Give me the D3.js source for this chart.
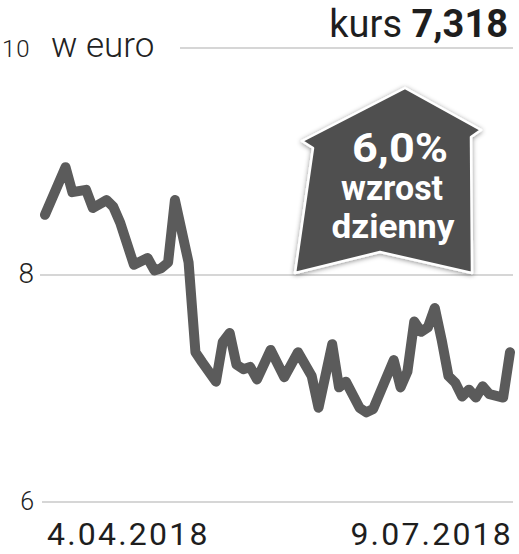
<!DOCTYPE html>
<html><head><meta charset="utf-8">
<script src="https://cdn.jsdelivr.net/npm/d3@7"></script>
<style>body{margin:0;background:#fff}svg{display:block}</style>
</head><body>
<svg id="c" width="519" height="554"></svg>
<script>
// trading-day index (0 = 4.04.2018, 68 = 9.07.2018) and EUR rate
const dayIndex = [0,3,4,6,7,9,10,11,13,15,16,17,18,19,21,22,23,25,26,27,28,29,30,31,33,35,37,39,40,42,43,44,46,47,48,51,52,53,54,55,56,57,58,59,60,61,62,63,64,65,67,68];
const values   = [8.53,8.95,8.73,8.75,8.59,8.66,8.60,8.46,8.09,8.15,8.04,8.06,8.11,8.66,8.11,7.32,7.23,7.06,7.41,7.49,7.21,7.17,7.19,7.08,7.34,7.10,7.32,7.11,6.83,7.39,7.01,7.06,6.83,6.79,6.82,7.25,7.01,7.15,7.59,7.50,7.54,7.71,7.43,7.11,7.05,6.93,6.99,6.92,7.02,6.95,6.92,7.32];
const yTicks = [6, 8, 10];
const dateLabels = ["4.04.2018", "9.07.2018"];
const unitLabel = "w euro";
const rateLabel = ["kurs", "7,318"];
const badgeLines = ["6,0%", "wzrost", "dzienny"];

const svg = d3.select("#c");
const x = d3.scaleLinear().domain([0, 68]).range([45, 510]);
const y = d3.scaleLinear().domain([6, 10]).range([502, 48]);
const font = "Roboto, 'Open Sans', sans-serif";

// gridlines
const gridStart = {6: 42, 8: 40, 10: 180};
svg.append("g").selectAll("line").data(yTicks).join("line")
  .attr("x1", d => gridStart[d]).attr("x2", 513)
  .attr("y1", d => y(d)).attr("y2", d => y(d))
  .attr("stroke", "#c9c9c9").attr("stroke-width", 1.6);

// tick labels
const tickSize = {6: 25, 8: 28, 10: 24};
svg.append("g").selectAll("text").data(yTicks).join("text")
  .attr("x", d => d === 10 ? 2 : 34).attr("text-anchor", d => d === 10 ? "start" : "end")
  .attr("y", d => d === 10 ? y(d) + 9 : y(d) + 8)
  .attr("font-family", font).attr("font-weight", 300)
  .attr("font-size", d => tickSize[d]).attr("letter-spacing", d => d === 10 ? 1 : 0)
  .attr("fill", "#222")
  .text(d => d);

svg.append("text").attr("x", 51).attr("y", 57)
  .attr("font-family", font).attr("font-weight", 300).attr("font-size", 35)
  .attr("fill", "#222").text(unitLabel);

// rate
const rt = svg.append("text").attr("x", 508).attr("y", 37).attr("text-anchor", "end")
  .attr("font-family", font).attr("font-size", 38).attr("fill", "#1e1e1e");
rt.append("tspan").attr("font-weight", 400).text(rateLabel[0] + " ");
rt.append("tspan").attr("font-weight", 700).text(rateLabel[1]);

// line
const pts = dayIndex.map((d, i) => [d, values[i]]);
svg.append("path").datum(pts)
  .attr("d", d3.line().x(d => x(d[0])).y(d => y(d[1])))
  .attr("fill", "none").attr("stroke", "#5b5b5b").attr("stroke-width", 10)
  .attr("stroke-linejoin", "round").attr("stroke-linecap", "round");

// date labels
svg.append("g").selectAll("text").data(dateLabels).join("text")
  .attr("x", (d, i) => i === 0 ? 47 : 513)
  .attr("text-anchor", (d, i) => i === 0 ? "start" : "end")
  .attr("y", 545).attr("font-family", font).attr("font-size", 32)
  .attr("letter-spacing", 2.2).attr("fill", "#1e1e1e").text(d => d);

// badge arrow
const defs = svg.append("defs");
const f = defs.append("filter").attr("id", "sh").attr("x", "-20%").attr("y", "-20%").attr("width", "140%").attr("height", "140%");
f.append("feDropShadow").attr("dx", 0).attr("dy", 1).attr("stdDeviation", 2.5).attr("flood-color", "#000").attr("flood-opacity", 0.45);
const arrow = [[405,88],[481,130],[471,137],[472,273],[380,252],[295,273],[313,148],[302,141]];
svg.append("path").attr("d", "M" + arrow.join("L") + "Z")
  .attr("fill", "#505050").attr("stroke", "#fff").attr("stroke-width", 2.5)
  .attr("stroke-linejoin", "round").attr("filter", "url(#sh)");

const bt = [
  {t: badgeLines[0], x: 400, y: 162, s: 40, w: 96},
  {t: badgeLines[1], x: 392, y: 200, s: 35, w: 102},
  {t: badgeLines[2], x: 393, y: 238, s: 34, w: 123}
];
svg.append("g").selectAll("text").data(bt).join("text")
  .attr("x", d => d.x).attr("y", d => d.y).attr("text-anchor", "middle")
  .attr("font-family", font).attr("font-weight", 700).attr("font-size", d => d.s)
  .attr("textLength", d => d.w).attr("lengthAdjust", "spacingAndGlyphs")
  .attr("fill", "#fff").text(d => d.t);
</script>
</body></html>
